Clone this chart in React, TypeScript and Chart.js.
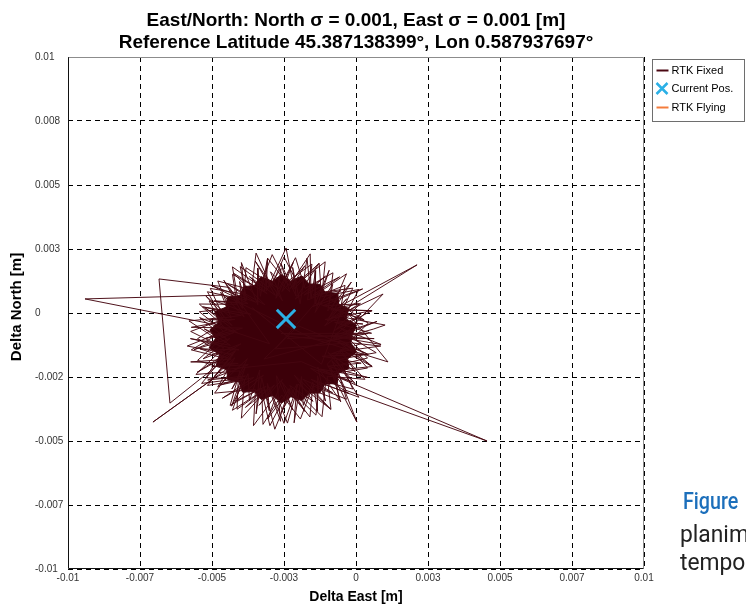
import React, { useEffect, useRef } from 'react';
import { Chart, registerables } from 'chart.js';

Chart.register(...registerables);

const TITLE_LINES = [
  'East/North: North σ = 0.001, East σ = 0.001 [m]',
  'Reference Latitude 45.387138399°, Lon 0.587937697°',
];
const X_TITLE = 'Delta East [m]';
const Y_TITLE = 'Delta North [m]';

const TICK_VALUES = [-0.01, -0.0075, -0.005, -0.0025, 0, 0.0025, 0.005, 0.0075, 0.01];
const X_TICK_LABELS = ['-0.01', '-0.007', '-0.005', '-0.003', '0', '0.003', '0.005', '0.007', '0.01'];
const Y_TICK_LABELS = ['-0.01', '-0.007', '-0.005', '-0.002', '0', '0.003', '0.005', '0.008', '0.01'];

const SERIES_LABELS = ['RTK Fixed', 'Current Pos.', 'RTK Flying'];
const SERIES_COLORS = ['#4a0712', '#2bb0e6', '#f47c3c'];
const SERIES_SYMBOLS = ['line', 'cross', 'line'];

// RTK Fixed track, millimetres (East, North)
const TRACK_EAST_MM = [
  -0.78, 0.55, -0.86, -0.33, -1.56, -1.59, -2.32, -3.07, -3.18, -4.29,
  -4.13, -5.44, -4.47, -5.86, -4.26, -5.16, -3.87, -3.98, -3.02, -2.5,
  -2.01, -0.87, -1.0, 0.31, -0.57, 0.86, -2.4, -3.6, -1.2, -0.57,
  -0.11, -1.21, -1.28, -2.15, -2.43, -3.05, -4.02, -3.79, -5.16, -4.62,
  -5.74, -4.59, -5.56, -4.03, -4.37, -3.3, -2.99, -2.33, -1.39, -1.28,
  0.1, -0.69, 0.7, -0.38, 0.94, -1.0, 2.12, -0.5, 1.11, -1.5,
  -4.6, -9.41, -5.17, -3.0, -4.4, -6.84, -6.46, -4.2, -5.0, -7.05,
  -4.5, -1.9, 4.55, -0.4, 0.03, -1.0, 0.43, -0.55, -0.38, -1.68,
  -1.53, -2.42, -2.91, -3.34, -4.29, -4.08, -5.1, -4.67, -5.5, -4.67,
  -5.21, -4.09, -4.13, -3.27, -3.23, -2.58, -1.93, -1.55, -0.58, -0.73,
  0.4, -0.27, -2.0, -3.2, 0.6, 1.01, -0.41, 0.1, -1.19, -1.07,
  -2.03, -2.5, -2.94, -3.47, -3.63, -4.8, -4.41, -5.44, -4.6, -5.72,
  -4.62, -5.36, -3.92, -4.29, -3.16, -2.82, -2.28, -1.6, -1.5, -0.33,
  -0.63, 0.56, -0.38, -2.8, -1.4, 0.28, -0.91, -0.8, -1.77, -2.1,
  -2.67, -3.82, -3.89, -5.06, -4.59, -5.8, -4.75, -5.5, -4.34, -4.91,
  -3.49, -3.56, -2.77, -2.38, -2.06, -1.18, -1.05, -0.11, -0.5, 0.4,
  -0.25, 0.63, -2.6,
  0.54, -0.74, 0.24, -1.07, 0.56, -0.88, 0.1, -1.15, 0.23, -1.5,
  -0.52, -1.5, -0.57, -1.8, -1.06, -2.11, -1.3, -2.29, -1.77, -2.57,
  -2.18, -2.78, -2.6, -3.12, -3.07, -3.32, -3.41, -3.41, -3.98, -3.84,
  -4.04, -3.94, -4.59, -3.88, -4.7, -4.33, -5.21, -4.3, -5.24, -4.11,
  -5.43, -4.5, -5.27, -4.36, -5.75, -4.06, -5.42, -4.33, -5.74, -4.09,
  -5.01, -3.74, -5.15, -3.84, -4.7, -3.55, -4.64, -3.21, -4.18, -3.12,
  -3.84, -2.83, -3.37, -2.56, -3.07, -2.29, -2.6, -2.05, -2.15, -1.89,
  -1.83, -1.5, -1.33, -1.34, -1.06, -1.33, -0.53, -0.88, -0.34, -0.84,
  -0.03, -0.97, -0.03, -0.54, 0.56, -0.63, 0.39, -0.88, 0.87, -0.54,
  0.19, -0.85, 0.43, -1.18, 0.18, -0.98, 0.41, -1.24, -0.13, -1.58,
  -0.24, -1.56, -0.81, -1.84, -0.88, -2.14, -1.49, -2.3, -1.77, -2.56,
  -2.2, -2.76, -2.62, -3.08, -3.01, -3.27, -3.47, -3.34, -3.7, -3.75,
  -4.32, -3.84, -4.31, -3.77, -4.8, -4.21, -4.92, -4.18, -5.52, -3.99,
  -5.31, -4.38, -5.62, -4.23, -5.25, -3.94, -5.72, -4.21, -5.09, -3.98,
  -5.33, -3.65, -4.92, -3.75, -5.03, -3.48, -4.46, -3.16, -4.26, -3.08,
  -3.7, -2.8, -3.5, -2.55, -2.97, -2.3, -2.61, -2.08, -2.2, -1.94,
  -1.7, -1.56, -1.4, -1.42, -0.93, -1.42, -0.81, -0.98, -0.16, -0.95,
  -0.32, -1.09, 0.15, -0.67, 0.18, -0.75, 0.73, -1.0, 0.42, -2.4,
];
const TRACK_NORTH_MM = [
  -0.7, 0.09, 0.12, 1.53, 0.59, 2.31, 1.07, 2.14, 0.84, 1.51,
  0.34, 0.35, -0.66, -1.29, -1.63, -2.83, -2.6, -4.11, -2.89, -4.31,
  -2.78, -3.76, -2.47, -2.59, -1.51, -1.29, -0.9, 0.2, -2.0, -0.12,
  0.97, 0.81, 1.95, 0.93, 2.54, 1.01, 1.81, 0.5, 0.83, -0.25,
  -0.72, -1.36, -2.4, -2.26, -3.61, -2.93, -4.4, -2.95, -3.99, -2.71,
  -3.29, -1.83, -1.55, -0.82, 0.74, -0.3, 1.88, 0.3, -1.91, -1.0,
  0.7, 0.55, -0.39, -1.2, 1.0, 1.33, -3.52, -1.5, -2.6, -4.26,
  -2.2, -1.9, -5.0, -3.0, -4.26, -2.0, -0.39, 0.1, 1.08, 0.51,
  1.91, 1.2, 2.28, 1.04, 1.8, 0.39, 0.47, -0.43, -1.0, -1.57,
  -2.53, -2.56, -3.76, -3.07, -4.35, -3.2, -4.14, -3.0, -3.41, -2.36,
  -2.15, -1.31, -0.5, -1.8, -0.63, -0.47, -0.17, 0.92, 0.64, 2.0,
  1.16, 2.19, 1.04, 2.34, 0.91, 1.25, 0.17, 0.05, -0.71, -1.44,
  -1.75, -2.75, -2.55, -3.8, -2.98, -4.54, -3.07, -4.06, -2.84, -3.37,
  -2.23, -2.09, -1.18, -1.4, 0.4, -0.27, 0.56, 1.57, 0.96, 2.16,
  0.95, 1.77, 0.74, 0.96, -0.17, -0.31, -1.08, -1.85, -2.27, -3.13,
  -2.98, -4.4, -3.19, -4.3, -3.04, -4.05, -2.69, -2.97, -2.0, -1.76,
  -1.0, -1.0, -0.8,
  -0.79, -0.37, -0.43, -0.25, 0.09, 0.15, 0.36, 0.28, 0.94, 0.25,
  0.87, 0.7, 1.41, 0.7, 1.44, 0.54, 1.91, 0.95, 1.85, 0.84,
  1.97, 0.57, 1.74, 0.86, 2.14, 0.65, 1.75, 0.32, 1.97, 0.46,
  1.23, 0.18, 1.28, -0.16, 0.81, -0.2, 0.66, -0.49, 0.2, -0.78,
  -0.18, -1.0, -0.62, -1.26, -1.0, -1.44, -1.4, -1.8, -1.91, -1.97,
  -2.1, -2.02, -2.62, -2.46, -2.81, -2.52, -3.33, -2.43, -3.44, -2.86,
  -3.69, -2.81, -3.61, -2.59, -4.14, -2.95, -3.89, -2.78, -4.29, -2.48,
  -3.61, -2.7, -3.84, -2.45, -3.44, -2.11, -3.47, -2.15, -3.04, -1.86,
  -2.76, -1.54, -2.29, -1.41, -2.09, -1.13, -1.6, -0.89, -1.23, -0.59,
  -1.19, -1.59, -1.61, -1.69, -1.96, -2.08, -2.52, -2.19, -2.69, -2.16,
  -3.15, -2.59, -3.12, -2.59, -3.76, -2.43, -3.45, -2.83, -3.85, -2.71,
  -3.78, -2.45, -4.23, -2.75, -3.82, -2.54, -3.94, -2.22, -3.42, -2.37,
  -3.64, -2.1, -2.97, -1.78, -2.89, -1.75, -2.48, -1.47, -2.32, -1.2,
  -1.79, -1.0, -1.43, -0.76, -1.0, -0.59, -0.56, -0.25, -0.27, -0.09,
  0.24, -0.05, 0.48, 0.37, 1.08, 0.42, 1.13, 0.32, 1.56, 0.75,
  1.42, 0.69, 2.03, 0.47, 1.61, 0.83, 1.94, 0.66, 1.78, 0.36,
  2.14, 0.59, 1.66, 0.35, 1.67, 0.02, 1.12, 0.08, 1.21, -0.2,
  0.56, -0.5, 0.38, -0.62, -0.04, -0.88, -0.33, -1.1, -0.8, -1.0,
];

// Outline of the saturated (overplotted) core of the track, millimetres
const CORE_EAST_MM = [
  -0.13, 0.02, -0.34, -0.25, -0.6, -0.63, -1.07, -1.25, -1.62, -1.88,
  -2.26, -2.59, -2.9, -3.3, -3.53, -3.9, -4.04, -4.47, -4.51, -4.9,
  -4.76, -5.07, -4.88, -5.1, -4.73, -4.85, -4.49, -4.45, -4.06, -3.94,
  -3.53, -3.29, -2.9, -2.59, -2.26, -1.88, -1.62, -1.25, -1.08, -0.65,
  -0.62, -0.25, -0.29, 0.02, -0.18, -0.13,
];
const CORE_NORTH_MM = [
  -0.84, -0.48, -0.23, 0.17, 0.35, 0.77, 0.8, 1.12, 1.13, 1.45,
  1.24, 1.5, 1.24, 1.42, 1.07, 1.03, 0.67, 0.62, 0.23, 0.05,
  -0.36, -0.65, -1.0, -1.36, -1.63, -2.03, -2.22, -2.61, -2.69, -3.09,
  -3.07, -3.38, -3.22, -3.52, -3.27, -3.42, -3.13, -3.12, -2.78, -2.75,
  -2.34, -2.17, -1.79, -1.52, -1.16, -0.84,
];

const CURRENT_EAST_M = -0.00243;
const CURRENT_NORTH_M = -0.00023;

const FLYING_EAST_MM: number[] = [];
const FLYING_NORTH_MM: number[] = [];

const SIDE_TEXT = ['Figure', 'planim', 'tempor'];

const FONT = "'Liberation Sans', Arial, sans-serif";

const toPoints = (east: number[], north: number[]) =>
  east.map((e, i) => ({ x: e / 1000, y: north[i] / 1000 }));

const framePlugin = {
  id: 'frame',
  afterDraw(chart: any) {
    const { ctx, chartArea: a } = chart;
    const l = Math.round(a.left) + 0.5;
    const r = Math.round(a.right) - 0.5;
    const t = Math.round(a.top) + 0.5;
    const b = Math.round(a.bottom) - 0.5;
    ctx.save();
    ctx.setLineDash([]);
    ctx.lineWidth = 1;
    ctx.strokeStyle = '#8c8c8c';
    ctx.beginPath();
    ctx.moveTo(l, t);
    ctx.lineTo(r, t);
    ctx.lineTo(r, b);
    ctx.stroke();
    ctx.strokeStyle = '#111';
    ctx.beginPath();
    ctx.moveTo(l, t);
    ctx.lineTo(l, b);
    ctx.lineTo(r, b);
    ctx.stroke();
    ctx.restore();
  },
};

const yTitlePlugin = {
  id: 'yTitle',
  afterDraw(chart: any) {
    const { ctx, chartArea: a } = chart;
    ctx.save();
    ctx.translate(17, (a.top + a.bottom) / 2 - 6);
    ctx.rotate(-Math.PI / 2);
    ctx.font = `bold 15px ${FONT}`;
    ctx.fillStyle = '#000';
    ctx.textAlign = 'center';
    ctx.textBaseline = 'middle';
    ctx.fillText(Y_TITLE, 0, 0);
    ctx.restore();
  },
};

const legendPlugin = {
  id: 'boxLegend',
  afterDraw(chart: any) {
    const { ctx, chartArea: a } = chart;
    const x0 = Math.round(a.right) + 8.5;
    const y0 = Math.round(a.top) + 2.5;
    const w = 92;
    const h = 62;
    ctx.save();
    ctx.setLineDash([]);
    ctx.fillStyle = '#fff';
    ctx.fillRect(x0, y0, w, h);
    ctx.strokeStyle = '#6e6e6e';
    ctx.lineWidth = 1;
    ctx.strokeRect(x0, y0, w, h);
    ctx.font = `11px ${FONT}`;
    ctx.textBaseline = 'middle';
    ctx.textAlign = 'left';
    SERIES_LABELS.forEach((label, i) => {
      const cy = y0 + 11 + i * 18.5;
      const sx = x0 + 3;
      ctx.strokeStyle = SERIES_COLORS[i];
      if (SERIES_SYMBOLS[i] === 'cross') {
        ctx.lineWidth = 2.5;
        ctx.beginPath();
        ctx.moveTo(sx + 1, cy - 6);
        ctx.lineTo(sx + 12, cy + 5);
        ctx.moveTo(sx + 12, cy - 6);
        ctx.lineTo(sx + 1, cy + 5);
        ctx.stroke();
      } else {
        ctx.lineWidth = 2;
        ctx.beginPath();
        ctx.moveTo(sx + 1, cy);
        ctx.lineTo(sx + 13, cy);
        ctx.stroke();
      }
      ctx.fillStyle = '#000';
      ctx.fillText(label, sx + 16, cy);
    });
    ctx.restore();
  },
};

export default function App() {
  const ref = useRef<HTMLCanvasElement | null>(null);

  useEffect(() => {
    if (!ref.current) return;
    const setTicks = (scale: any) => {
      scale.ticks = TICK_VALUES.map((v) => ({ value: v }));
    };
    const chart = new Chart(ref.current, {
      type: 'scatter',
      data: {
        datasets: [
          {
            label: SERIES_LABELS[1],
            data: [{ x: CURRENT_EAST_M, y: CURRENT_NORTH_M }],
            showLine: false,
            pointStyle: 'crossRot',
            pointRadius: 13,
            pointBorderWidth: 3,
            pointBorderColor: SERIES_COLORS[1],
            pointBackgroundColor: SERIES_COLORS[1],
          },
          {
            label: SERIES_LABELS[0],
            data: toPoints(TRACK_EAST_MM, TRACK_NORTH_MM),
            showLine: true,
            borderColor: 'rgba(70, 6, 16, 0.95)',
            borderWidth: 1,
            pointRadius: 0,
            tension: 0,
          },
          {
            label: SERIES_LABELS[2],
            data: toPoints(FLYING_EAST_MM, FLYING_NORTH_MM),
            showLine: true,
            borderColor: SERIES_COLORS[2],
            borderWidth: 1,
            pointRadius: 0,
          },
          {
            label: 'core',
            data: toPoints(CORE_EAST_MM, CORE_NORTH_MM),
            showLine: true,
            fill: 'shape',
            backgroundColor: '#3c0009',
            borderColor: '#3c0009',
            borderWidth: 1,
            pointRadius: 0,
            tension: 0,
          },
        ] as any,
      },
      options: {
        animation: false,
        responsive: false,
        devicePixelRatio: 1,
        events: [],
        layout: { padding: { left: 35, right: 102, top: 0, bottom: 0 } },
        plugins: {
          legend: { display: false },
          tooltip: { enabled: false },
          title: {
            display: true,
            fullSize: false,
            text: TITLE_LINES,
            color: '#000',
            font: { family: FONT, size: 19, weight: 'bold', lineHeight: 22 / 19 },
            padding: { top: 10, bottom: 3 },
          },
        },
        scales: {
          x: {
            type: 'linear',
            min: -0.01,
            max: 0.01,
            z: 1,
            afterBuildTicks: setTicks,
            afterFit: (s: any) => {
              s.height = 37;
            },
            grid: { color: '#000', lineWidth: 1, drawTicks: false },
            border: { display: false, dash: [5, 4] },
            ticks: {
              autoSkip: false,
              maxRotation: 0,
              padding: 3,
              color: '#333',
              font: { family: FONT, size: 10 },
              callback: (_v: any, i: number) => X_TICK_LABELS[i],
            },
            title: {
              display: true,
              text: X_TITLE,
              color: '#000',
              font: { family: FONT, size: 14, weight: 'bold' },
              padding: { top: 2, bottom: 0 },
            },
          },
          y: {
            type: 'linear',
            min: -0.01,
            max: 0.01,
            z: 1,
            afterBuildTicks: setTicks,
            afterFit: (s: any) => {
              s.width = 33;
            },
            grid: { color: '#000', lineWidth: 1, drawTicks: false },
            border: { display: false, dash: [5, 4] },
            ticks: {
              autoSkip: false,
              crossAlign: 'far',
              padding: 4,
              color: '#333',
              font: { family: FONT, size: 10 },
              callback: (_v: any, i: number) => Y_TICK_LABELS[i],
            },
            title: { display: false },
          },
        },
      } as any,
      plugins: [framePlugin, yTitlePlugin, legendPlugin],
    });
    return () => chart.destroy();
  }, []);

  const sideTop = [489, 522, 550];
  return (
    <div
      style={{
        position: 'fixed',
        left: 0,
        top: 0,
        width: 746,
        height: 606,
        overflow: 'hidden',
        background: '#fff',
      }}
    >
      <canvas ref={ref} width={746} height={606} style={{ display: 'block' }} />
      {SIDE_TEXT.map((t, i) => (
        <div
          key={t}
          style={{
            position: 'absolute',
            left: i === 0 ? 683 : 680,
            top: sideTop[i],
            fontFamily: "Roboto, 'Noto Sans', sans-serif",
            fontSize: 24,
            lineHeight: 1,
            fontWeight: i === 0 ? 500 : 400,
            color: i === 0 ? '#1c6fbb' : '#222',
            whiteSpace: 'nowrap',
            transform: i === 0 ? 'scaleX(0.82)' : 'scaleX(0.95)',
            transformOrigin: 'left top',
          }}
        >
          {t}
        </div>
      ))}
    </div>
  );
}
